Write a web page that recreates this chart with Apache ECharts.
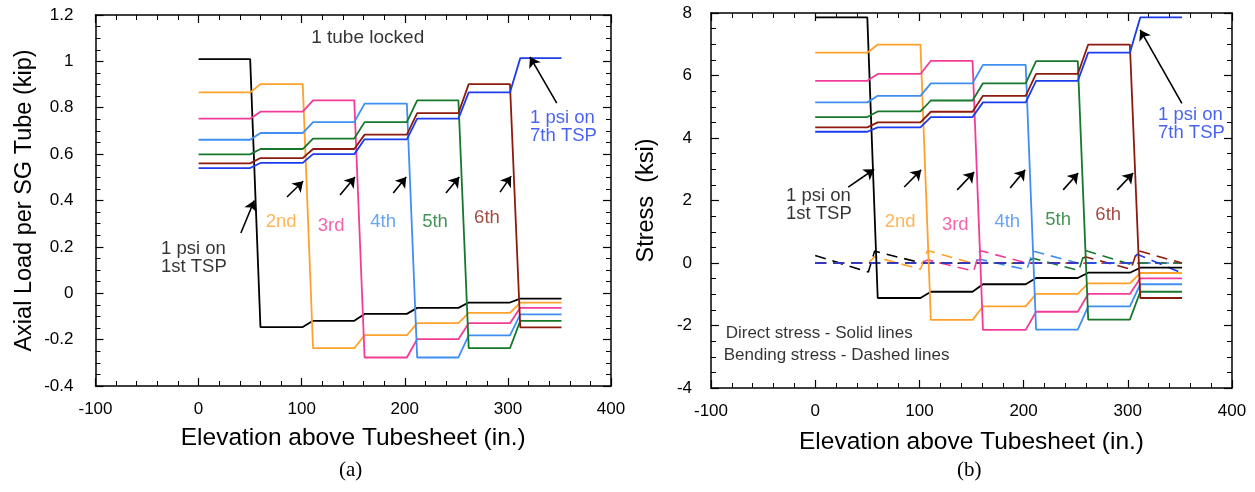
<!DOCTYPE html>
<html><head><meta charset="utf-8">
<script src="https://cdn.jsdelivr.net/npm/echarts@6/dist/echarts.min.js"></script>
<style>html,body{margin:0;padding:0;background:#fff}#c{width:1255px;height:492px}</style>
</head><body><div id="c"></div>
<script>
// ---------- data ----------
const elevation = [0, 50, 60, 101, 111, 151, 161, 202, 212, 252, 262, 302, 312, 352];
const seriesNames = ['1st TSP', '2nd TSP', '3rd TSP', '4th TSP', '5th TSP', '6th TSP', '7th TSP'];
const colors = ['#000000', '#ffa12b', '#f23c98', '#3f8ff2', '#17782c', '#8c1b0e', '#1c3cee'];

// Axial load per SG tube (kip), panel (a)
const load1 = [1.01, 1.01, -0.146, -0.146, -0.119, -0.119, -0.089, -0.089, -0.063, -0.063, -0.040, -0.040, -0.023, -0.023];
const load2 = [0.866, 0.866, 0.902, 0.902, -0.237, -0.237, -0.181, -0.181, -0.129, -0.129, -0.085, -0.085, -0.040, -0.040];
const load3 = [0.753, 0.753, 0.783, 0.783, 0.832, 0.832, -0.277, -0.277, -0.198, -0.198, -0.129, -0.129, -0.063, -0.063];
const load4 = [0.662, 0.662, 0.691, 0.691, 0.738, 0.738, 0.818, 0.818, -0.277, -0.277, -0.182, -0.182, -0.091, -0.091];
const load5 = [0.599, 0.599, 0.622, 0.622, 0.667, 0.667, 0.738, 0.738, 0.832, 0.832, -0.237, -0.237, -0.119, -0.119];
const load6 = [0.560, 0.560, 0.583, 0.583, 0.622, 0.622, 0.684, 0.684, 0.777, 0.777, 0.902, 0.902, -0.147, -0.147];
const load7 = [0.540, 0.540, 0.562, 0.562, 0.600, 0.600, 0.664, 0.664, 0.753, 0.753, 0.866, 0.866, 1.014, 1.014];

// Direct stress (ksi), panel (b)
const direct1 = [7.86, 7.86, -1.12, -1.12, -0.92, -0.92, -0.68, -0.68, -0.48, -0.48, -0.31, -0.31, -0.15, -0.15];
const direct2 = [6.73, 6.73, 6.99, 6.99, -1.82, -1.82, -1.39, -1.39, -0.99, -0.99, -0.65, -0.65, -0.32, -0.32];
const direct3 = [5.83, 5.83, 6.05, 6.05, 6.47, 6.47, -2.14, -2.14, -1.56, -1.56, -0.99, -0.99, -0.49, -0.49];
const direct4 = [5.14, 5.14, 5.35, 5.35, 5.75, 5.75, 6.34, 6.34, -2.13, -2.13, -1.39, -1.39, -0.68, -0.68];
const direct5 = [4.67, 4.67, 4.85, 4.85, 5.20, 5.20, 5.75, 5.75, 6.46, 6.46, -1.81, -1.81, -0.92, -0.92];
const direct6 = [4.34, 4.34, 4.50, 4.50, 4.84, 4.84, 5.35, 5.35, 6.05, 6.05, 6.99, 6.99, -1.12, -1.12];
const direct7 = [4.20, 4.20, 4.34, 4.34, 4.67, 4.67, 5.14, 5.14, 5.83, 5.83, 6.73, 6.73, 7.86, 7.86];

// Bending stress (ksi), panel (b) : [elevation, stress]
const bend1 = [[0, 0.24], [51, -0.29], [57, 0.38], [103, -0.01], [352, -0.01]];
const bend2 = [[0, 0], [51, 0], [57, 0.2], [101, -0.2], [108, 0.4], [150, 0], [352, 0]];
const bend3 = [[0, 0], [102, 0], [108, 0.1], [152, -0.26], [158, 0.4], [203, 0], [352, 0]];
const bend4 = [[0, 0], [152, 0], [158, 0.12], [203, -0.22], [209, 0.38], [252, 0], [352, 0]];
const bend5 = [[0, 0], [203, 0], [209, 0.15], [253, -0.24], [259, 0.4], [303, -0.05], [312, 0], [352, 0]];
const bend6 = [[0, 0], [253, 0], [259, 0.2], [303, -0.2], [309, 0.4], [352, 0]];
const bend7 = [[0, 0], [303, 0], [309, 0.28], [352, -0.32]];

// tick labels
const xTicks = [-100, 0, 100, 200, 300, 400];
const loadTicks = [-0.4, -0.2, 0, 0.2, 0.4, 0.6, 0.8, 1, 1.2];
const stressTicks = [-4, -2, 0, 2, 4, 6, 8];

// annotations (data coordinates)
const leftTexts = [
  {t: '1 tube locked', x: 164, y: 1.10, c: 0, a: 'c', s: 19},
  {t: '1 psi on\n1st TSP', x: -37, y: 0.152, c: 0, a: 'l'},
  {t: '2nd', x: 80, y: 0.307, c: 1, a: 'c'},
  {t: '3rd', x: 128.6, y: 0.29, c: 2, a: 'c'},
  {t: '4th', x: 179, y: 0.307, c: 3, a: 'c'},
  {t: '5th', x: 229.3, y: 0.307, c: 4, a: 'c'},
  {t: '6th', x: 279.7, y: 0.324, c: 5, a: 'c'},
  {t: '1 psi on\n7th TSP', x: 321, y: 0.719, c: 6, a: 'l'}
];
const leftArrows = [
  [[41, 0.26], [54, 0.40]],
  [[85.7, 0.415], [101.4, 0.483]],
  [[137.2, 0.424], [151.7, 0.501]],
  [[188.8, 0.432], [201.4, 0.501]],
  [[239.9, 0.432], [252.8, 0.501]],
  [[292.4, 0.436], [303.1, 0.505]],
  [[347.4, 0.82], [321.4, 1.019]]
];
const rightTexts = [
  {t: '1 psi on\n1st TSP', x: -28.5, y: 1.86, c: 0, a: 'l'},
  {t: '2nd', x: 81.6, y: 1.31, c: 1, a: 'c'},
  {t: '3rd', x: 134.4, y: 1.22, c: 2, a: 'c'},
  {t: '4th', x: 184.3, y: 1.31, c: 3, a: 'c'},
  {t: '5th', x: 233.2, y: 1.38, c: 4, a: 'c'},
  {t: '6th', x: 281.2, y: 1.54, c: 5, a: 'c'},
  {t: '1 psi on\n7th TSP', x: 328.5, y: 4.45, c: 6, a: 'l'},
  {t: 'Direct stress - Solid lines', x: -86.4, y: -2.24, c: 0, a: 'l', s: 17},
  {t: 'Bending stress - Dashed lines', x: -88.3, y: -2.94, c: 0, a: 'l', s: 17}
];
const rightArrows = [
  [[31.7, 2.43], [56.6, 3.0]],
  [[85.4, 2.43], [101.7, 2.98]],
  [[136.3, 2.34], [152.6, 2.91]],
  [[187.1, 2.4], [201.5, 2.98]],
  [[238, 2.34], [252.4, 2.88]],
  [[289.8, 2.34], [305.2, 2.88]],
  [[351.9, 5.11], [311.9, 7.46]]
];

// ---------- chart ----------
const FONT = '"Liberation Sans", Arial, Helvetica, sans-serif';
const loads = [load1, load2, load3, load4, load5, load6, load7];
const directs = [direct1, direct2, direct3, direct4, direct5, direct6, direct7];
const bends = [bend1, bend2, bend3, bend4, bend5, bend6, bend7];

function fmt(v) { return String(Math.round(v * 10) / 10); }

function xAxisDef(grid, pos, nameGap) {
  const bottom = pos === 'bottom';
  return {
    gridIndex: grid, type: 'value', position: pos, min: xTicks[0], max: xTicks[xTicks.length - 1],
    interval: xTicks[1] - xTicks[0],
    axisLine: {show: true, onZero: false, lineStyle: {color: '#000', width: 1.5}},
    axisTick: {show: true, inside: true, length: 8, lineStyle: {color: '#000', width: 1.2}},
    minorTick: {show: true, splitNumber: 5, length: 5, lineStyle: {color: '#000', width: 1}},
    splitLine: {show: false},
    axisLabel: {show: bottom, color: '#000', fontSize: 17, fontFamily: FONT, margin: 15, formatter: fmt},
    name: bottom ? 'Elevation above Tubesheet (in.)' : '', nameLocation: 'middle', nameGap: nameGap,
    nameTextStyle: {color: '#000', fontSize: 24.5, fontFamily: FONT}
  };
}
function yAxisDef(grid, pos, ticks, name, nameGap, margin) {
  const left = pos === 'left';
  return {
    gridIndex: grid, type: 'value', position: pos, min: ticks[0], max: ticks[ticks.length - 1],
    interval: ticks[1] - ticks[0],
    axisLine: {show: true, onZero: false, lineStyle: {color: '#000', width: 1.5}},
    axisTick: {show: true, inside: true, length: 8, lineStyle: {color: '#000', width: 1.2}},
    minorTick: {show: true, splitNumber: 4, length: 5, lineStyle: {color: '#000', width: 1}},
    splitLine: {show: false},
    axisLabel: {show: left, color: '#000', fontSize: 17, fontFamily: FONT, margin: margin, formatter: fmt,
      showMinLabel: true, showMaxLabel: true},
    name: left ? name : '', nameLocation: 'middle', nameGap: nameGap,
    nameTextStyle: {color: '#000', fontSize: 23.5, fontFamily: FONT}
  };
}

const series = [];
loads.forEach((arr, i) => {
  series.push({
    name: seriesNames[i], type: 'line', xAxisIndex: 0, yAxisIndex: 0, symbol: 'none',
    data: elevation.map((x, k) => [x, arr[k]]),
    lineStyle: {color: colors[i], width: 1.8}, z: 3
  });
});
bends.forEach((arr, i) => {
  series.push({
    name: seriesNames[i] + ' bending', type: 'line', xAxisIndex: 2, yAxisIndex: 2, symbol: 'none',
    data: arr, lineStyle: {color: colors[i], width: 1.6, type: [11, 7]}, z: 2
  });
});
directs.forEach((arr, i) => {
  series.push({
    name: seriesNames[i] + ' direct', type: 'line', xAxisIndex: 2, yAxisIndex: 2, symbol: 'none',
    data: elevation.map((x, k) => [x, arr[k]]),
    lineStyle: {color: colors[i], width: 1.8}, z: 3
  });
});

function textSeries(xi, yi, texts, arrows) {
  return {
    type: 'scatter', xAxisIndex: xi, yAxisIndex: yi, symbol: 'circle', symbolSize: 1, silent: true, z: 10,
    itemStyle: {color: 'rgba(0,0,0,0)'},
    data: texts.map(d => ({
      value: [d.x, d.y],
      label: {
        show: true, formatter: d.t, position: d.a === 'l' ? 'right' : 'inside', distance: 0,
        align: d.a === 'l' ? 'left' : 'center', verticalAlign: 'middle',
        color: colors[d.c], fontSize: d.s || 18.5, lineHeight: 18, fontFamily: FONT
      }
    })),
    markLine: {
      silent: true, animation: false, symbol: ['none', 'arrow'], symbolSize: 10,
      lineStyle: {color: '#000', width: 1.6, type: 'solid'},
      label: {show: false},
      data: arrows.map(a => [{coord: a[0]}, {coord: a[1]}])
    }
  };
}
series.push(textSeries(0, 0, leftTexts, leftArrows));
series.push(textSeries(2, 2, rightTexts, rightArrows));

const option = {
  animation: false,
  backgroundColor: '#fff',
  grid: [
    {left: 95.5, top: 15, width: 515.5, height: 371, outerBoundsMode: 'none', containLabel: false},
    {left: 711, top: 13, width: 521, height: 375, outerBoundsMode: 'none', containLabel: false}
  ],
  xAxis: [xAxisDef(0, 'bottom', 40), xAxisDef(0, 'top', 0), xAxisDef(1, 'bottom', 41.5), xAxisDef(1, 'top', 0)],
  yAxis: [
    yAxisDef(0, 'left', loadTicks, 'Axial Load per SG Tube (kip)', 59, 22),
    yAxisDef(0, 'right', loadTicks, '', 0, 8),
    yAxisDef(1, 'left', stressTicks, 'Stress  (ksi)', 52, 19),
    yAxisDef(1, 'right', stressTicks, '', 0, 8)
  ],
  graphic: [
    {type: 'text', left: 339, top: 460, style: {text: '(a)', font: '21px "Liberation Serif", "Times New Roman", serif', fill: '#000'}},
    {type: 'text', left: 957, top: 460, style: {text: '(b)', font: '21px "Liberation Serif", "Times New Roman", serif', fill: '#000'}}
  ],
  series: series
};

const chart = echarts.init(document.getElementById('c'), null, {renderer: 'canvas'});
chart.setOption(option);
</script>
</body></html>
